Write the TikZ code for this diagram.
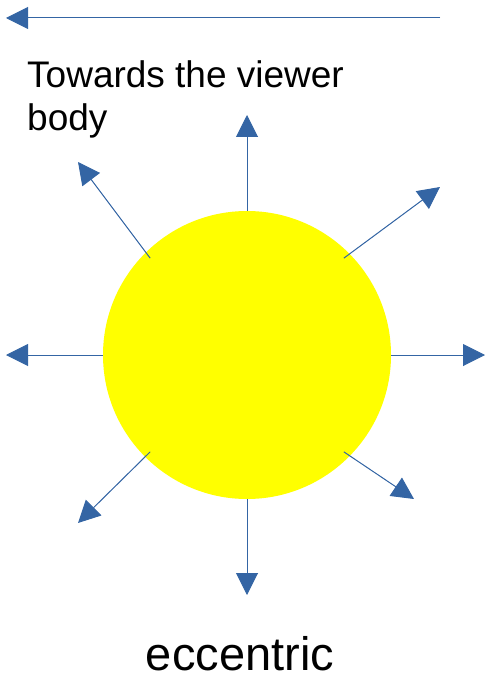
\documentclass[tikz,border=0pt]{standalone}
\usepackage{fontspec}
\setmainfont{Liberation Sans}
\usetikzlibrary{arrows.meta,calc}
\definecolor{rayblue}{HTML}{3465A4}
\definecolor{sunyellow}{HTML}{FFFF00}
\begin{document}
\begin{tikzpicture}[x=1pt, y=-1pt]
    % Set up styles
    \tikzstyle{ray} = [-{Triangle[length=22pt,width=22pt]}, draw=rayblue, fill=rayblue, line width=1pt]
    \tikzstyle{sun} = [circle, fill=sunyellow, minimum size=288pt, inner sep=0pt]

    \useasboundingbox (0,0) rectangle (485,679);

    % Direction of the viewer
    \coordinate (viewtail) at (440,18);
    \coordinate (viewhead) at (6,18);
    \draw[ray] (viewtail) -- (viewhead);
    \node[anchor=base west, align=left, inner sep=0pt, font=\fontsize{37}{43}\selectfont]
        (label) at (27,131) {Towards the viewer\\body};

    % The body
    \node[sun] (body) at (247,355) {};

    % Rays going outwards
    \coordinate (tipN) at (247,115);
    \coordinate (tipS) at (247,595);
    \coordinate (tipW) at (6,355);
    \coordinate (tipE) at (485,355);
    \coordinate (tipNW) at (78,162);
    \coordinate (tipNE) at (440,187);
    \coordinate (tipSW) at (78,523);
    \coordinate (tipSE) at (414,499);

    \draw[ray] (body.north) -- (tipN);
    \draw[ray] (body.south) -- (tipS);
    \draw[ray] (body.west) -- (tipW);
    \draw[ray] (body.east) -- (tipE);
    % diagonal rays start a little inside the rim
    \draw[ray] ($(body.center)!0.95!(body.135)$) -- (tipNW);
    \draw[ray] ($(body.center)!0.95!(body.45)$) -- (tipNE);
    \draw[ray] ($(body.center)!0.95!(body.-135)$) -- (tipSW);
    \draw[ray] ($(body.center)!0.95!(body.-45)$) -- (tipSE);

    % Caption
    \node[anchor=base, inner sep=0pt, font=\fontsize{47}{56}\selectfont]
        (caption) at (240,670) {eccentric};

\end{tikzpicture}
\end{document}
